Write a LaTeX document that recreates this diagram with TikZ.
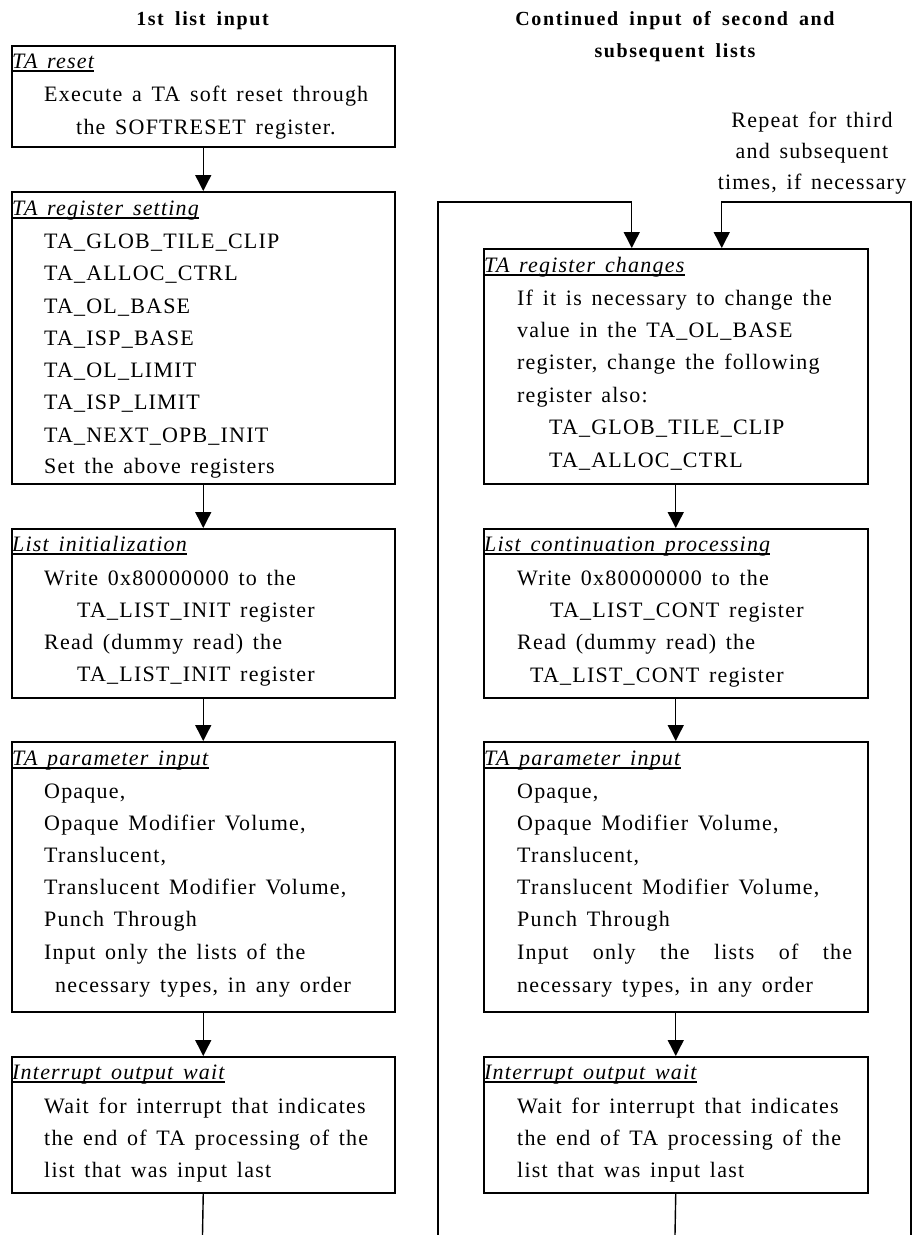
\documentclass[tikz,border=0pt]{standalone}
\usepackage{fontspec}
\setmainfont{Liberation Serif}[LetterSpace=5.5,WordSpace=1.45]
\newfontfamily\hdrfont{Liberation Serif}[LetterSpace=8,WordSpace=1.7]
\usetikzlibrary{arrows.meta}
\tikzset{
  box/.style={draw, line width=1.5pt, rectangle, inner sep=0pt, anchor=north west},
  txt/.style={anchor=base west, inner sep=0pt, font=\fontsize{22}{22}\selectfont},
  ttl/.style={anchor=base west, inner sep=0pt, font=\fontsize{22}{22}\selectfont\itshape},
  hdr/.style={anchor=base, inner sep=0pt, font=\hdrfont\fontsize{20}{20}\selectfont\bfseries},
  note/.style={anchor=base, inner sep=0pt, font=\fontsize{22}{22}\selectfont},
  arr/.style={line width=1.4pt, -{Triangle[width=16pt,length=16pt]}},
  ln/.style={line width=1.4pt},
  uline/.style={line width=1.3pt}
}
\newcommand\tline[4]{\node[txt] (#1) at (#2,#3) {#4};}
\newcommand\ttitle[4]{\node[ttl] (#1) at (#2,#3) {#4};
  \draw[uline] ([yshift=-3pt]#1.base west) -- ([yshift=-3pt]#1.base east);}
\begin{document}
\begin{tikzpicture}[x=1pt,y=-1pt]
\useasboundingbox (0,0) rectangle (913,1235);
% headers
\node[hdr] (h1) at (202.5,25) {1st list input};
\node[hdr] (h2) at (675,25) {Continued input of second and};
\node[hdr] (h3) at (675,57) {subsequent lists};
\node[note] (n1) at (812,127) {Repeat for third};
\node[note] (n2) at (812,158) {and subsequent};
\node[note] (n3) at (812,189) {times, if necessary};
% ---------- left column ----------
\node[box, minimum width=383pt, minimum height=101pt] (reset) at (11,45) {};
\ttitle{reset-t}{12}{68}{TA reset}
\tline{reset-1}{44}{101}{Execute a TA soft reset through}
\tline{reset-2}{76}{134}{the SOFTRESET register.}

\node[box, minimum width=383pt, minimum height=292pt] (regset) at (11,191) {};
\ttitle{regset-t}{12}{215}{TA register setting}
\tline{regset-1}{44}{248}{TA\_GLOB\_TILE\_CLIP}
\tline{regset-2}{44}{280}{TA\_ALLOC\_CTRL}
\tline{regset-3}{44}{313}{TA\_OL\_BASE}
\tline{regset-4}{44}{345}{TA\_ISP\_BASE}
\tline{regset-5}{44}{377}{TA\_OL\_LIMIT}
\tline{regset-6}{44}{409}{TA\_ISP\_LIMIT}
\tline{regset-7}{44}{442}{TA\_NEXT\_OPB\_INIT}
\tline{regset-8}{44}{473}{Set the above registers}

\node[box, minimum width=383pt, minimum height=169pt] (linit) at (11,528) {};
\ttitle{linit-t}{12}{551}{List initialization}
\tline{linit-1}{44}{585}{Write 0x80000000 to the}
\tline{linit-2}{77}{617}{TA\_LIST\_INIT register}
\tline{linit-3}{44}{649}{Read (dummy read) the}
\tline{linit-4}{77}{681}{TA\_LIST\_INIT register}

\node[box, minimum width=383pt, minimum height=270pt] (tpin) at (11,741) {};
\ttitle{tpin-t}{12}{765}{TA parameter input}
\tline{tpin-1}{44}{798}{Opaque,}
\tline{tpin-2}{44}{830}{Opaque Modifier Volume,}
\tline{tpin-3}{44}{862}{Translucent,}
\tline{tpin-4}{44}{894}{Translucent Modifier Volume,}
\tline{tpin-5}{44}{926}{Punch Through}
\tline{tpin-6}{44}{959}{Input only the lists of the}
\tline{tpin-7}{55}{992}{necessary types, in any order}

\node[box, minimum width=383pt, minimum height=136pt] (intw) at (11,1056) {};
\ttitle{intw-t}{12}{1079}{Interrupt output wait}
\tline{intw-1}{44}{1113}{Wait for interrupt that indicates}
\tline{intw-2}{44}{1145}{the end of TA processing of the}
\tline{intw-3}{44}{1177}{list that was input last}

% ---------- right column ----------
\node[box, minimum width=384pt, minimum height=235pt] (regch) at (483,248) {};
\ttitle{regch-t}{484}{272}{TA register changes}
\tline{regch-1}{517}{305}{If it is necessary to change the}
\tline{regch-2}{517}{337}{value in the TA\_OL\_BASE}
\tline{regch-3}{517}{369}{register, change the following}
\tline{regch-4}{517}{402}{register also:}
\tline{regch-5}{549}{434}{TA\_GLOB\_TILE\_CLIP}
\tline{regch-6}{549}{467}{TA\_ALLOC\_CTRL}

\node[box, minimum width=384pt, minimum height=169pt] (lcont) at (483,528) {};
\ttitle{lcont-t}{484}{551}{List continuation processing}
\tline{lcont-1}{517}{585}{Write 0x80000000 to the}
\tline{lcont-2}{550}{617}{TA\_LIST\_CONT register}
\tline{lcont-3}{517}{649}{Read (dummy read) the}
\tline{lcont-4}{530}{682}{TA\_LIST\_CONT register}

\node[box, minimum width=384pt, minimum height=270pt] (tpin2) at (483,741) {};
\ttitle{tpin2-t}{484}{765}{TA parameter input}
\tline{tpin2-1}{517}{798}{Opaque,}
\tline{tpin2-2}{517}{830}{Opaque Modifier Volume,}
\tline{tpin2-3}{517}{862}{Translucent,}
\tline{tpin2-4}{517}{894}{Translucent Modifier Volume,}
\tline{tpin2-5}{517}{926}{Punch Through}
\tline{tpin2-6}{517}{959}{\makebox[335pt][s]{Input only the lists of the}}
\tline{tpin2-7}{517}{992}{necessary types, in any order}

\node[box, minimum width=384pt, minimum height=136pt] (intw2) at (483,1056) {};
\ttitle{intw2-t}{484}{1079}{Interrupt output wait}
\tline{intw2-1}{517}{1113}{Wait for interrupt that indicates}
\tline{intw2-2}{517}{1145}{the end of TA processing of the}
\tline{intw2-3}{517}{1177}{list that was input last}

% ---------- connectors ----------
\draw[arr] (reset.south) -- (regset.north);
\draw[arr] (regset.south) -- (linit.north);
\draw[arr] (linit.south) -- (tpin.north);
\draw[arr] (tpin.south) -- (intw.north);
\coordinate (e1) at (202.5,1235);
\draw[ln] (intw.south) -- (e1);

\draw[arr] (regch.south) -- (lcont.north);
\draw[arr] (lcont.south) -- (tpin2.north);
\draw[arr] (tpin2.south) -- (intw2.north);
\coordinate (e2) at (675,1235);
\draw[ln] (intw2.south) -- (e2);

\coordinate (lb) at (438,1235);
\coordinate (lt) at (438,202);
\coordinate (rb) at (911,1235);
\coordinate (rt) at (911,202);
\draw[arr] (lb) -- (lt) -| ([xshift=-44pt]regch.north);
\draw[arr] (rb) -- (rt) -| ([xshift=46pt]regch.north);
\end{tikzpicture}
\end{document}
